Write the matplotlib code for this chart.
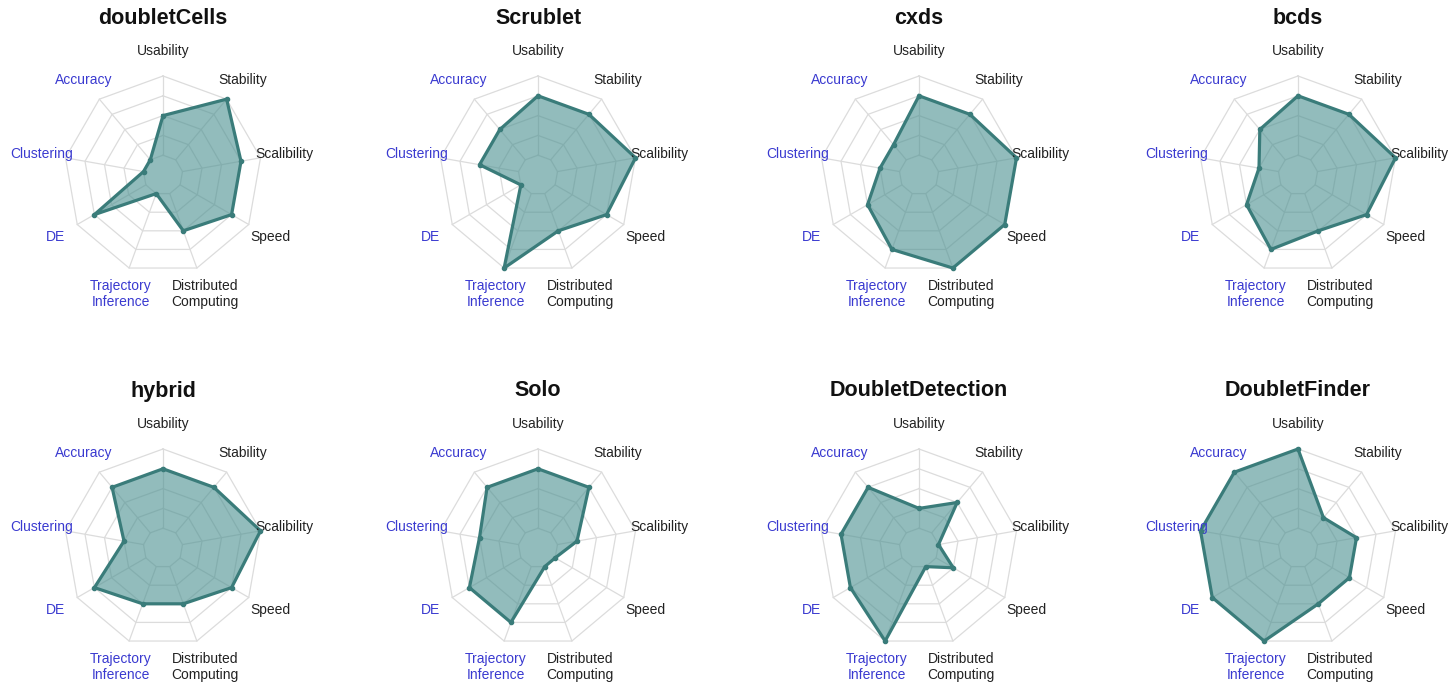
import numpy as np
import matplotlib
matplotlib.use("Agg")
import matplotlib.pyplot as plt

plt.rcParams['font.family'] = ['Liberation Sans', 'DejaVu Sans']

# axes go clockwise from the top
axes_names = ["Usability", "Stability", "Scalibility", "Speed",
              "Distributed\nComputing", "Trajectory\nInference", "DE",
              "Clustering", "Accuracy"]
blue_axes = ["Trajectory\nInference", "DE", "Clustering", "Accuracy"]

tools = ["doubletCells", "Scrublet", "cxds", "bcds",
         "hybrid", "Solo", "DoubletDetection", "DoubletFinder"]

# scores 1..5 in the order of axes_names
doubletCells = [3, 5, 4, 4, 3, 1, 4, 1, 1]
Scrublet = [4, 4, 5, 4, 3, 5, 1, 3, 3]
cxds = [4, 4, 5, 5, 5, 4, 3, 2, 2]
bcds = [4, 4, 5, 4, 3, 4, 3, 2, 3]
hybrid = [4, 4, 5, 4, 3, 3, 4, 2, 4]
Solo = [4, 4, 2, 1, 1, 4, 4, 3, 4]
DoubletDetection = [2, 3, 1, 2, 1, 5, 4, 4, 4]
DoubletFinder = [5, 2, 3, 3, 3, 5, 5, 5, 5]
scores = [doubletCells, Scrublet, cxds, bcds,
          hybrid, Solo, DoubletDetection, DoubletFinder]

W, H = 1454, 683
R = 99  # outer ring radius in px
centers_x = [163, 538, 919, 1298]
centers_y = [175, 548]
title_y = [18, 391]

fig = plt.figure(figsize=(W / 100, H / 100), dpi=100)

n = len(axes_names)
ang = np.deg2rad(90 - 40 * np.arange(n))
cx, cy = np.cos(ang), np.sin(ang)

for k, tool in enumerate(tools):
    row, col = divmod(k, 4)
    px, py = centers_x[col], centers_y[row]
    bw, bh = 360, 330
    ax = fig.add_axes([(px - bw / 2) / W, 1 - (py + bh / 2) / H, bw / W, bh / H])
    ax.set_xlim(-bw / 2 / R, bw / 2 / R)
    ax.set_ylim(-bh / 2 / R, bh / 2 / R)
    ax.axis('off')

    # grid rings and spokes
    for lev in range(1, 6):
        r = lev / 5
        ax.plot(np.append(cx, cx[0]) * r, np.append(cy, cy[0]) * r,
                color='#dcdcdc', lw=0.9, zorder=1)
    for i in range(n):
        ax.plot([cx[i] * 0.2, cx[i]], [cy[i] * 0.2, cy[i]],
                color='#dcdcdc', lw=0.9, zorder=1)

    v = np.array(scores[k]) / 5
    xs, ys = cx * v, cy * v
    ax.fill(xs, ys, color='#4f9393', alpha=0.62, lw=0, zorder=2)
    ax.plot(np.append(xs, xs[0]), np.append(ys, ys[0]),
            color='#3a7c7a', lw=2.3, zorder=3)
    ax.plot(xs, ys, 'o', color='#3a7c7a', ms=3, zorder=4)

    for i, name in enumerate(axes_names):
        c = '#3a3ad0' if name in blue_axes else '#222222'
        dy = -0.03 if '\n' in name else 0
        ax.text(cx[i] * 1.25, cy[i] * 1.25 + dy, name, ha='center', va='center',
                fontsize=10, color=c, linespacing=1.2, clip_on=False)

    fig.text(px / W, 1 - title_y[row] / H, tool, ha='center', va='center',
             fontsize=15.5, fontweight='bold', color='#111111')

fig.savefig("out.png", dpi=100, facecolor='white')
